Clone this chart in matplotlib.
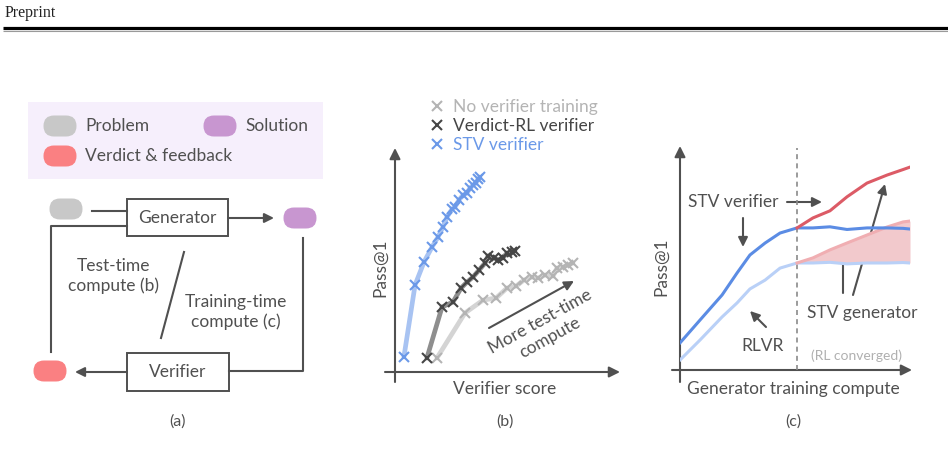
import matplotlib.pyplot as plt
from matplotlib.patches import FancyBboxPatch, Rectangle
from matplotlib.lines import Line2D

plt.rcParams['font.family'] = ['Lato', 'DejaVu Sans']

# (b) pass@1 against verifier score, one point per test-time budget
stv_score = [4.0, 9.0, 13.0, 16.6, 19.3, 21.5, 23.3, 25.6, 26.9, 28.7, 30.5, 32.3, 33.6, 35.0, 36.3, 37.2, 38.1]
stv_pass = [6.8, 39.2, 49.5, 56.3, 60.8, 65.3, 69.8, 73.4, 74.3, 77.5, 79.7, 80.6, 82.9, 84.2, 85.1, 86.9, 87.8]
rl_score = [14.3, 21.1, 26.0, 29.6, 32.3, 35.0, 37.7, 40.4, 41.7, 44.4, 46.2, 48.4, 50.2, 52.5, 53.8]
rl_pass = [6.3, 29.3, 31.5, 37.8, 40.5, 42.8, 45.9, 49.1, 52.3, 51.4, 50.5, 51.4, 53.6, 54.1, 54.5]
base_score = [18.8, 31.4, 39.5, 45.3, 50.2, 54.3, 57.8, 61.4, 64.1, 67.3, 70.9, 72.6, 75.3, 77.6, 79.8]
base_pass = [6.3, 26.6, 32.4, 33.3, 37.8, 38.7, 41.4, 42.8, 42.3, 43.7, 43.2, 46.8, 47.3, 48.2, 49.1]
legend_labels = ['No verifier training', 'Verdict-RL verifier', 'STV verifier']

# (c) pass@1 against generator training compute
x_pre = [0, 8.7, 18.3, 24.8, 30.4, 37.0, 43.5, 50.9]
x_post = [50.9, 57.8, 65.2, 72.6, 81.3, 90.0, 97.0, 100]
stv_ver_pre = [12.2, 22.5, 33.8, 43.7, 51.8, 57.2, 61.7, 64.0]
stv_ver_post = [64.0, 64.0, 64.5, 63.3, 64.0, 64.0, 63.8, 63.5]
rlvr_pre = [4.5, 13.5, 23.9, 30.2, 36.5, 40.5, 45.9, 48.2]
rlvr_post = [48.2, 48.2, 48.5, 47.8, 48.2, 48.2, 48.4, 48.2]
gen_hi = [64.0, 68.5, 71.7, 78.0, 84.2, 87.8, 90.3, 91.4]
gen_lo = [48.2, 50.5, 54.1, 57.2, 60.8, 64.4, 66.7, 67.1]
rl_converged = 50.9

TXT = '#505050'
FS = 12.5
fig = plt.figure(figsize=(9.48, 4.5), dpi=100)

# overlay in pixel units for the header, the diagram and the drawn axes
ax0 = fig.add_axes([0, 0, 1, 1])
ax0.set_xlim(0, 948)
ax0.set_ylim(450, 0)
ax0.axis('off')

ax0.text(5, 13, 'Preprint', family=['Liberation Serif'], fontsize=11.5, color='#222222', va='center')
ax0.plot([3, 948], [27.5, 27.5], color='black', lw=2.3, solid_capstyle='butt')
ax0.plot([3, 948], [30.5, 30.5], color='#9a9a9a', lw=0.8, solid_capstyle='butt')

def pill(cx, cy, color, w=33, h=21):
    ax0.add_patch(FancyBboxPatch((cx - w / 2, cy - h / 2), w, h,
                                 boxstyle='round,pad=0,rounding_size=%g' % (h / 2),
                                 fc=color, ec='none'))

def arrow(x0, y0, x1, y1, lw=1.5, ms=14):
    ax0.annotate('', xy=(x1, y1), xytext=(x0, y0),
                 arrowprops=dict(arrowstyle='-|>', color=TXT, lw=lw, mutation_scale=ms,
                                 shrinkA=0, shrinkB=0))

# (a) legend
ax0.add_patch(Rectangle((28, 102), 295, 77, fc='#f6effc', ec='none'))
GRAY, PURPLE, RED = '#c8c8c8', '#c896d0', '#fa8082'
pill(60, 126, GRAY)
ax0.text(85, 126, 'Problem', fontsize=FS, color=TXT, va='center')
pill(220, 126, PURPLE)
ax0.text(245, 126, 'Solution', fontsize=FS, color=TXT, va='center')
pill(60, 156, RED)
ax0.text(85, 156, 'Verdict & feedback', fontsize=FS, color=TXT, va='center')

# (a) diagram
pill(66, 209, GRAY)
pill(300, 218, PURPLE)
pill(50, 371, RED)
ax0.add_patch(Rectangle((127, 199), 101, 37, fc='white', ec=TXT, lw=1.4))
ax0.text(177.5, 218, 'Generator', fontsize=FS, color=TXT, ha='center', va='center')
ax0.add_patch(Rectangle((127, 353), 102, 38, fc='white', ec=TXT, lw=1.4))
ax0.text(178, 372, 'Verifier', fontsize=FS, color=TXT, ha='center', va='center')
ax0.plot([92, 127], [211, 211], color=TXT, lw=1.5)
arrow(228, 218, 274, 218)
ax0.plot([303, 303, 229], [238, 371, 371], color=TXT, lw=1.5)
arrow(127, 372, 75, 372)
ax0.plot([51, 51, 127], [352, 226, 226], color=TXT, lw=1.5)
ax0.plot([184, 161], [252, 338], color=TXT, lw=1.5)
ax0.text(114, 276, 'Test-time\ncompute (b)', fontsize=FS, color=TXT, ha='center', va='center', linespacing=1.3)
ax0.text(236, 312, 'Training-time\ncompute (c)', fontsize=FS, color=TXT, ha='center', va='center', linespacing=1.3)
ax0.text(178, 422, '(a)', fontsize=11.5, color=TXT, ha='center', va='center')

# (b) drawn axes
arrow(395, 382, 395, 148, ms=16)
arrow(385, 372, 620, 372, ms=16)
ax0.text(380, 268, 'Pass@1', fontsize=FS, color=TXT, ha='center', va='center', rotation=90)
ax0.text(505, 389, 'Verifier score', fontsize=FS, color=TXT, ha='center', va='center')
ax0.text(505, 422, '(b)', fontsize=11.5, color=TXT, ha='center', va='center')
arrow(489, 328, 574, 281)
ax0.text(545, 330, 'More test-time\ncompute', fontsize=FS, color=TXT, ha='center', va='center',
         rotation=29, rotation_mode='anchor', linespacing=1.2)

axb = fig.add_axes([395 / 948, (450 - 372) / 450, 223 / 948, 222 / 450])
axb.set_xlim(0, 100)
axb.set_ylim(0, 100)
axb.axis('off')
series_b = [(base_score, base_pass, '#d4d4d4', '#b4b4b4'),
            (rl_score, rl_pass, '#8e8e8e', '#454545'),
            (stv_score, stv_pass, '#a8c3f2', '#6b99e8')]
handles = []
for (xs, ys, lc, mc), lab in zip(series_b, legend_labels):
    axb.plot(xs, ys, color=lc, lw=3.4, solid_capstyle='round', zorder=2)
    axb.plot(xs, ys, ls='none', marker='x', ms=7, mew=1.5, color=mc, zorder=3)
    handles.append(Line2D([], [], ls='none', marker='x', ms=7, mew=1.5, color=mc, label=lab))
fig.legend(handles=handles, loc='upper left', bbox_to_anchor=(432 / 948, 1 - 99 / 450),
           frameon=False, fontsize=FS, handlelength=0.6, handletextpad=0.6, labelspacing=0.18,
           borderpad=0, borderaxespad=0, labelcolor='markeredgecolor')

# (c) drawn axes
arrow(680, 382, 680, 146, ms=16)
arrow(672, 370, 912, 370, ms=16)
ax0.text(661, 267, 'Pass@1', fontsize=FS, color=TXT, ha='center', va='center', rotation=90)
ax0.text(793, 389, 'Generator training compute', fontsize=FS, color=TXT, ha='center', va='center')
ax0.text(793, 422, '(c)', fontsize=11.5, color=TXT, ha='center', va='center')

axc = fig.add_axes([680 / 948, (450 - 370) / 450, 230 / 948, 222 / 450])
axc.set_xlim(0, 100)
axc.set_ylim(0, 100)
axc.axis('off')
axc.axvline(rl_converged, ymin=0, ymax=1.0, color='#8a8a8a', lw=1.2, ls=(0, (3, 2.5)))
axc.fill_between(x_post, rlvr_post, gen_lo, color='#f2c9cc', lw=0, zorder=1)
axc.plot(x_pre + x_post[1:], rlvr_pre + rlvr_post[1:], color='#b9d0f7', lw=2.2, zorder=3)
axc.plot(x_post, gen_lo, color='#f0aeb2', lw=2.2, zorder=3)
axc.plot(x_pre + x_post[1:], stv_ver_pre + stv_ver_post[1:], color='#5b8ce4', lw=2.2, zorder=4)
axc.plot(x_post, gen_hi, color='#dc5b66', lw=2.2, zorder=4)

ax0.text(733, 202, 'STV verifier', fontsize=FS, color=TXT, ha='center', va='center')
arrow(787, 202, 822, 202)
arrow(743, 218, 743, 247)
ax0.text(763, 346, 'RLVR', fontsize=FS, color=TXT, ha='center', va='center')
arrow(766, 327, 750, 311)
ax0.text(862, 313, 'STV generator', fontsize=FS, color=TXT, ha='center', va='center')
arrow(843, 293, 843, 252)
arrow(853, 295, 885, 184)
ax0.text(857, 356, '(RL converged)', fontsize=10, color='#b0b0b0', ha='center', va='center')

fig.savefig('out.png', dpi=100)
